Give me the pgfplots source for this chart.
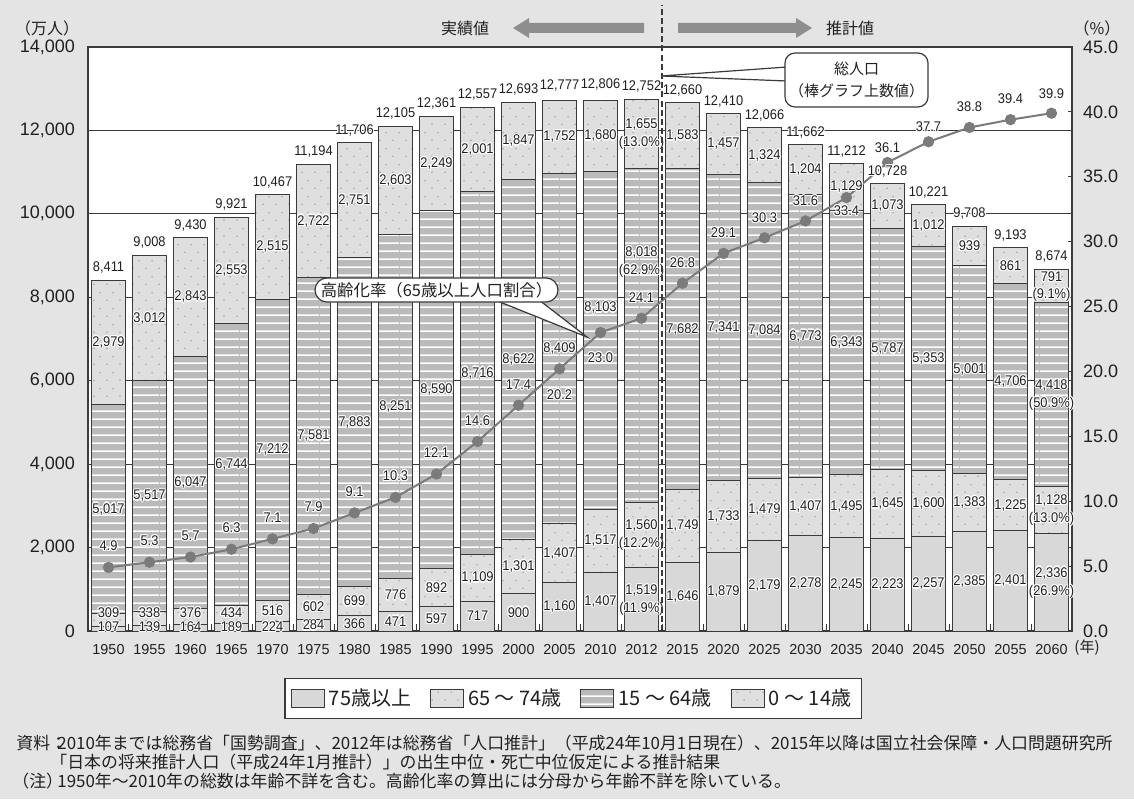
\documentclass[border=0pt]{standalone}
\usepackage{fontspec}
\setmainfont{Liberation Sans}
\newfontfamily\cjk{Noto Sans CJK JP}
\newfontfamily\narrow[FakeStretch=0.92]{Liberation Sans}
\usepackage{pgfplots}
\pgfplotsset{compat=1.18}
\usepackage{pgfplotstable}
\usetikzlibrary{patterns}

\definecolor{bg}{HTML}{E4E4E4}
\definecolor{c75}{HTML}{D8D8D8}
\definecolor{cdot}{HTML}{DFDFDF}
\definecolor{dotc}{HTML}{A4A4A4}
\definecolor{c15}{HTML}{BABABA}
\definecolor{edge}{HTML}{3A3A3A}
\definecolor{ratec}{HTML}{7B7B7B}
\definecolor{arrowc}{HTML}{8E8E8E}
\definecolor{ink}{HTML}{202020}

% sparse staggered dots for the 0-14 and 65-74 segments
\pgfdeclarepatternformonly{sdots}{\pgfpointorigin}{\pgfpoint{6.5pt}{8pt}}{\pgfpoint{6.5pt}{8pt}}{%
  \pgfpathcircle{\pgfpoint{1.6pt}{2pt}}{0.45pt}%
  \pgfpathcircle{\pgfpoint{4.85pt}{6pt}}{0.45pt}%
  \pgfusepath{fill}}
% horizontal stripes for the 15-64 segment
\pgfdeclarepatternformonly{hstripes}{\pgfpointorigin}{\pgfpoint{40pt}{4.2pt}}{\pgfpoint{40pt}{4.2pt}}{%
  \pgfsetlinewidth{0.8pt}%
  \pgfpathmoveto{\pgfpoint{0pt}{2.1pt}}\pgfpathlineto{\pgfpoint{40pt}{2.1pt}}\pgfusepath{stroke}}

% text with a white outline
\newcommand\halo[1]{\begingroup
  \setbox0=\hbox{#1}%
  \setbox1=\hbox{{\color{white}#1}}%
  \def\hl##1##2{\rlap{\kern##1\raise##2\copy1}}%
  \hl{0.55pt}{0pt}\hl{-0.55pt}{0pt}\hl{0pt}{0.55pt}\hl{0pt}{-0.55pt}%
  \hl{0.4pt}{0.4pt}\hl{-0.4pt}{0.4pt}\hl{0.4pt}{-0.4pt}\hl{-0.4pt}{-0.4pt}%
  \box0\endgroup}
\newcommand\lblfont{\narrow\fontsize{7}{9}\selectfont}

\pgfkeys{/pgf/number format/.cd, 1000 sep={,}, assume math mode=true}

\pgfplotsset{
  lbl/.style={draw=none, mark=none, point meta=explicit,
    nodes near coords={\halo{\pgfmathprintnumber{\pgfplotspointmeta}}},
    every node near coord/.append style={anchor=center, inner sep=0pt, text=ink, font=\lblfont}},
  % rows without a share label
  plain rows/.style={skip coords between index={13}{14}, skip coords between index={23}{24}},
  % 2012 and 2060 rows, which carry a share label
  share rows/.style={skip coords between index={0}{13}, skip coords between index={14}{23}},
  share/.style={draw=none, mark=none, point meta=explicit,
    nodes near coords={\halo{(\pgfmathprintnumber[fixed, fixed zerofill, precision=1]{\pgfplotspointmeta}\%)}},
    every node near coord/.append style={anchor=center, inner sep=0pt, yshift=-4.6pt, text=ink, font=\lblfont}},
  panel/.style={at={(0,0)}, anchor=south west, scale only axis,
    width=492pt, height=292pt, xmin=-0.5, xmax=23.5,
    /pgf/number format/assume math mode=true},
}

% population by age group (10 thousand persons), ageing rate (%)
\pgfplotstableread{
x  a75  a65  a15  a0   tot   rate dr    d15  p75  p65  p15  p0
0  107  309  5017 2979 8411  4.9  1.65  0    0    0    0    0
1  139  338  5517 3012 9008  5.3  1.65  0    0    0    0    0
2  164  376  6047 2843 9430  5.7  1.65  0    0    0    0    0
3  189  434  6744 2553 9921  6.3  1.65  0    0    0    0    0
4  224  516  7212 2515 10467 7.1  1.65  0    0    0    0    0
5  284  602  7581 2722 11194 7.9  1.65  0    0    0    0    0
6  366  699  7883 2751 11706 9.1  1.65  0    0    0    0    0
7  471  776  8251 2603 12105 10.3 1.65  0    0    0    0    0
8  597  892  8590 2249 12361 12.1 1.65  0    0    0    0    0
9  717  1109 8716 2001 12557 14.6 1.6   0    0    0    0    0
10 900  1301 8622 1847 12693 17.4 1.6   0    0    0    0    0
11 1160 1407 8409 1752 12777 20.2 -2.0  0    0    0    0    0
12 1407 1517 8103 1680 12806 23.0 -1.95 770  0    0    0    0
13 1519 1560 8018 1655 12752 24.1 1.6   1760 11.9 12.2 62.9 13.0
14 1646 1749 7682 1583 12660 26.8 1.6   0    0    0    0    0
15 1879 1733 7341 1457 12410 29.1 1.6   0    0    0    0    0
16 2179 1479 7084 1324 12066 30.3 1.55  0    0    0    0    0
17 2278 1407 6773 1204 11662 31.6 1.55  0    0    0    0    0
18 2245 1495 6343 1129 11212 33.4 -1.0  0    0    0    0    0
19 2223 1645 5787 1073 10728 36.1 1.15  0    0    0    0    0
20 2257 1600 5353 1012 10221 37.7 1.15  0    0    0    0    0
21 2385 1383 5001 939  9708  38.8 1.6   0    0    0    0    0
22 2401 1225 4706 861  9193  39.4 1.6   0    0    0    0    0
23 2336 1128 4418 791  8674  39.9 1.5   0    26.9 13.0 50.9 9.1
}\data

\begin{document}
\begin{tikzpicture}[x=1pt,y=1pt]
\useasboundingbox (-44,-84) rectangle (523,315.5);
\fill[bg] (-44,-84) rectangle (523,315.5);

% stacked bars, left scale
\begin{axis}[panel,
  ymin=0, ymax=14000,
  ybar stacked, bar width=0.85,
  axis background/.style={fill=white},
  axis line style={draw=edge, line width=0.6pt},
  ytick={0,2000,...,14000}, scaled y ticks=false,
  ymajorgrids, major grid style={draw=edge, line width=0.5pt},
  xtick={0,...,23},
  xticklabels={1950,1955,1960,1965,1970,1975,1980,1985,1990,1995,2000,2005,2010,2012,2015,2020,2025,2030,2035,2040,2045,2050,2055,2060},
  minor xtick={0.5,1.5,...,22.5},
  major tick length=0pt, minor tick length=3.5pt, tick align=inside,
  xtick pos=left, ytick pos=left,
  tick style={draw=edge, line width=0.5pt},
  xticklabel style={font=\fontsize{7.2}{8}\selectfont, text=ink, yshift=-3.2pt},
  yticklabel style={font=\fontsize{9}{10}\selectfont, text=ink, xshift=-3pt},
  /pgf/number format/1000 sep={,},
  legend image code/.code={\draw[#1, line width=0.5pt] (0pt,-4.5pt) rectangle (16.5pt,4.5pt);},
  legend style={at={(0.4929,0)}, anchor=north, yshift=-23.5pt,
    draw=edge, line width=0.6pt, fill=white, text=ink,
    font=\cjk\fontsize{10}{11}\selectfont,
    inner xsep=3pt, inner ysep=3pt,
    /tikz/every even column/.append style={column sep=7.5pt}},
  legend columns=4, legend cell align=left,
]
\addplot[fill=c75, draw=edge, line width=0.5pt] table[x=x, y=a75] {\data};
\addplot[preaction={fill=cdot}, pattern=sdots, pattern color=dotc, draw=edge, line width=0.5pt] table[x=x, y=a65] {\data};
\addplot[preaction={fill=c15}, pattern=hstripes, pattern color=white, draw=edge, line width=0.5pt] table[x=x, y=a15] {\data};
\addplot[preaction={fill=cdot}, pattern=sdots, pattern color=dotc, draw=edge, line width=0.5pt] table[x=x, y=a0] {\data};
\legend{75歳以上, 65 ～ 74歳, 15 ～ 64歳, 0 ～ 14歳}
\end{axis}

% ageing rate, right scale
\begin{axis}[panel,
  ymin=0, ymax=45,
  axis x line=none, axis y line*=right,
  axis line style={draw=edge, line width=0.6pt},
  ytick={0,5,...,45},
  tick align=inside, major tick length=2.2pt,
  tick style={draw=edge, line width=0.5pt},
  yticklabel style={font=\fontsize{9}{10}\selectfont, text=ink, xshift=2pt,
    /pgf/number format/.cd, fixed, fixed zerofill, precision=1},
  clip=false,
]
\addplot[draw=ratec, line width=1pt, mark=*, mark size=2.3pt,
  mark options={fill=ratec, draw=ratec}] table[x=x, y=rate] {\data};
\addplot[draw=none, mark=none, point meta=explicit,
  nodes near coords={\halo{\pgfmathprintnumber[fixed, fixed zerofill, precision=1]{\pgfplotspointmeta}}},
  every node near coord/.append style={anchor=center, inner sep=0pt, text=ink, font=\lblfont}]
  table[x=x, y expr=\thisrow{rate}+\thisrow{dr}, meta=rate] {\data};
\end{axis}

% segment values and totals
\begin{axis}[panel,
  ymin=0, ymax=14000, hide axis, clip=false,
  /pgf/number format/1000 sep={,},
]
% 75 and over
\addplot[lbl, plain rows] table[x=x, y expr={max(\thisrow{a75}/2,95)}, meta=a75] {\data};
\addplot[lbl, share rows, every node near coord/.append style={yshift=4.6pt}] table[x=x, y expr={\thisrow{a75}/2}, meta=a75] {\data};
\addplot[share, share rows] table[x=x, y expr={\thisrow{a75}/2}, meta=p75] {\data};
% 65-74
\addplot[lbl, plain rows] table[x=x, y expr={max(\thisrow{a75}+\thisrow{a65}/2,440)}, meta=a65] {\data};
\addplot[lbl, share rows, every node near coord/.append style={yshift=4.6pt}] table[x=x, y expr={\thisrow{a75}+\thisrow{a65}/2}, meta=a65] {\data};
\addplot[share, share rows] table[x=x, y expr={\thisrow{a75}+\thisrow{a65}/2}, meta=p65] {\data};
% 15-64
\addplot[lbl, plain rows] table[x=x, y expr={\thisrow{a75}+\thisrow{a65}+\thisrow{a15}/2+\thisrow{d15}}, meta=a15] {\data};
\addplot[lbl, share rows, every node near coord/.append style={yshift=4.6pt}] table[x=x, y expr={\thisrow{a75}+\thisrow{a65}+\thisrow{a15}/2+\thisrow{d15}}, meta=a15] {\data};
\addplot[share, share rows] table[x=x, y expr={\thisrow{a75}+\thisrow{a65}+\thisrow{a15}/2+\thisrow{d15}}, meta=p15] {\data};
% 0-14
\addplot[lbl, plain rows] table[x=x, y expr={\thisrow{a75}+\thisrow{a65}+\thisrow{a15}+\thisrow{a0}/2}, meta=a0] {\data};
\addplot[lbl, share rows, every node near coord/.append style={yshift=4.6pt}] table[x=x, y expr={\thisrow{a75}+\thisrow{a65}+\thisrow{a15}+\thisrow{a0}/2}, meta=a0] {\data};
\addplot[share, share rows] table[x=x, y expr={\thisrow{a75}+\thisrow{a65}+\thisrow{a15}+\thisrow{a0}/2}, meta=p0] {\data};
% totals above the bars
\addplot[lbl, every node near coord/.append style={anchor=south, yshift=2.5pt}]
  table[x=x, y=tot, meta=tot] {\data};
\end{axis}

% boundary between census and projection
\draw[edge, line width=0.6pt, dash pattern=on 3pt off 1.6pt] (287,0) -- (287,313);

% callout: total population
\filldraw[fill=white, draw=edge, line width=0.6pt] (286.5,277.5) -- (349.5,282) -- (349.5,275) -- cycle;
\filldraw[fill=white, draw=edge, line width=0.6pt, rounded corners=5pt] (348.5,262) rectangle (420,289);
\node[font=\cjk\fontsize{7.5}{11}\selectfont, text=ink, align=center] at (384.25,275.5) {総人口\\（棒グラフ上数値）};

% callout: ageing rate
\filldraw[fill=white, draw=edge, line width=0.6pt] (249.5,147) -- (203.5,165.5) -- (225.5,165.5) -- cycle;
\filldraw[fill=white, draw=edge, line width=0.6pt, rounded corners=6pt] (113.5,164.5) rectangle (235,176.5);
\node[font=\cjk\fontsize{8.2}{10}\selectfont, text=ink] at (174.25,170.5) {高齢化率（65歳以上人口割合）};

% header band
\node[font=\cjk\fontsize{8}{9}\selectfont, text=ink] at (188.5,301.5) {実績値};
\fill[arrowc] (278,299) -- (220.5,299) -- (220.5,296.5) -- (212.5,301.5) -- (220.5,306.5) -- (220.5,304) -- (278,304) -- cycle;
\fill[arrowc] (295,299) -- (354,299) -- (354,296.5) -- (362,301.5) -- (354,306.5) -- (354,304) -- (295,304) -- cycle;
\node[font=\cjk\fontsize{8}{9}\selectfont, text=ink] at (381,301.5) {推計値};

% units
\node[font=\cjk\fontsize{8}{9}\selectfont, text=ink] at (-20.5,301.5) {（万人）};
\node[font=\cjk\fontsize{8}{9}\selectfont, text=ink] at (504.5,301.5) {（\%）};
\node[font=\cjk\fontsize{7.5}{9}\selectfont, text=ink] at (499.5,-8.5) {(年)};

% sources and notes
\begin{scope}[every node/.style={anchor=base west, inner sep=0pt, text=ink, font=\cjk\fontsize{8.45}{9}\selectfont}]
\node at (-36,-59.25) {資料：};
\node at (-15.5,-59.25) {2010年までは総務省「国勢調査」、2012年は総務省「人口推計」（平成24年10月1日現在）、2015年以降は国立社会保障・人口問題研究所};
\node at (-19,-68.75) {「日本の将来推計人口（平成24年1月推計）」の出生中位・死亡中位仮定による推計結果};
\node at (-38,-78.25) {（注）};
\node at (-15.5,-78.25) {1950年～2010年の総数は年齢不詳を含む。高齢化率の算出には分母から年齢不詳を除いている。};
\end{scope}
\end{tikzpicture}
\end{document}
